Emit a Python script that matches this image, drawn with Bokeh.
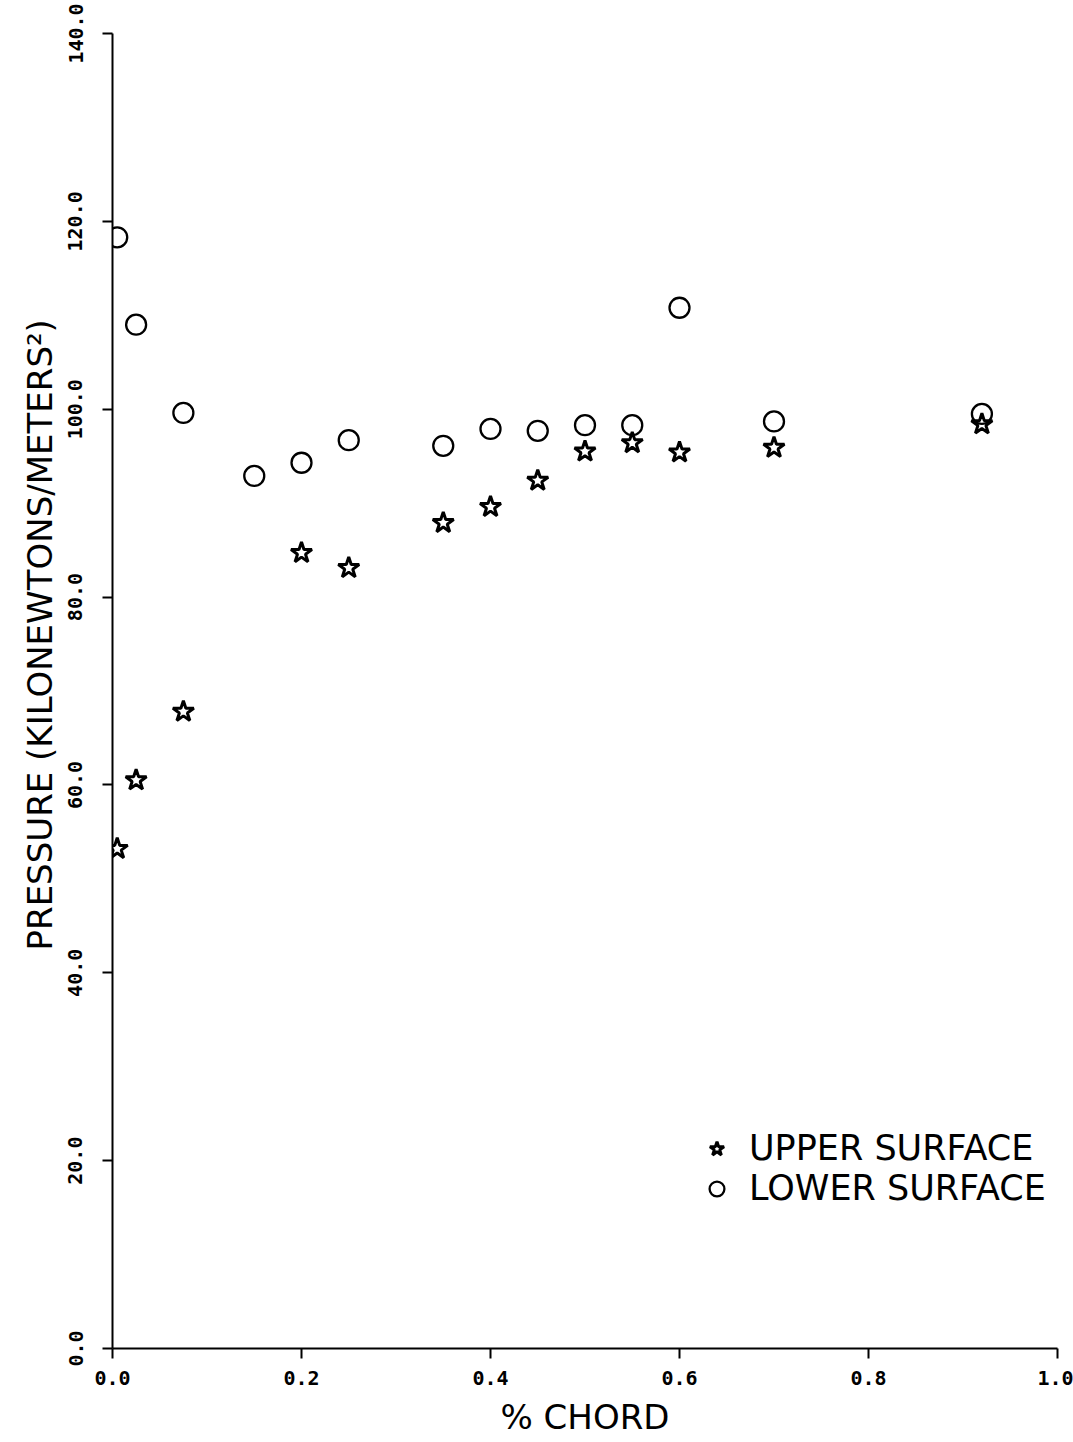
from bokeh.plotting import figure
from bokeh.models import Range1d, FixedTicker, PrintfTickFormatter, Legend, LegendItem, Title
from bokeh.embed import file_html
from bokeh.resources import INLINE

# data
upper_x = [0.005, 0.025, 0.075, 0.2, 0.25, 0.35, 0.4, 0.45, 0.5, 0.55, 0.6, 0.7, 0.92]
upper_y = [53.2, 60.5, 67.8, 84.7, 83.1, 87.9, 89.6, 92.4, 95.5, 96.4, 95.4, 95.9, 98.4]

lower_x = [0.005, 0.025, 0.075, 0.15, 0.2, 0.25, 0.35, 0.4, 0.45, 0.5, 0.55, 0.6, 0.7, 0.92]
lower_y = [118.3, 109.0, 99.6, 92.9, 94.3, 96.7, 96.1, 97.9, 97.7, 98.3, 98.3, 110.8, 98.7, 99.5]

x_ticks = [0.0, 0.2, 0.4, 0.6, 0.8, 1.0]
y_ticks = [0.0, 20.0, 40.0, 60.0, 80.0, 100.0, 120.0, 140.0]

x_label = "% CHORD"
y_label = "PRESSURE (KILONEWTONS/METERS\u00b2)"
series_labels = ["UPPER SURFACE", "LOWER SURFACE"]

p = figure(width=1073, height=1442, output_backend="svg", toolbar_location=None,
           x_range=Range1d(0, 1.0), y_range=Range1d(0, 140),
           min_border_left=112, min_border_right=16, min_border_top=33, min_border_bottom=94)
p.outline_line_color = None
p.grid.visible = False
p.background_fill_color = "white"
p.border_fill_color = "white"

tick_font = "DejaVu Sans Mono"
for ax in (p.xaxis[0], p.yaxis[0]):
    ax.axis_line_color = "black"
    ax.axis_line_width = 2
    ax.major_tick_line_color = "black"
    ax.major_tick_line_width = 2
    ax.major_tick_out = 10
    ax.major_tick_in = 0
    ax.minor_tick_line_color = None
    ax.major_label_text_font = tick_font
    ax.major_label_text_font_style = "bold"
    ax.major_label_text_font_size = "20px"
    ax.major_label_text_color = "black"
    ax.formatter = PrintfTickFormatter(format="%.1f")

p.xaxis.ticker = FixedTicker(ticks=x_ticks)
p.yaxis.ticker = FixedTicker(ticks=y_ticks)
p.xaxis.major_label_standoff = 12
p.yaxis.major_label_standoff = 20
p.yaxis.major_label_orientation = "vertical"

p.xaxis.axis_label = x_label
p.xaxis.axis_label_text_font = "DejaVu Sans"
p.xaxis.axis_label_text_font_style = "normal"
p.xaxis.axis_label_text_font_size = "34px"
p.xaxis.axis_label_text_color = "black"
p.xaxis.axis_label_standoff = 9

ytitle = Title(text=y_label, align="left", offset=398, text_font="DejaVu Sans",
               text_font_style="normal", text_font_size="34px", text_color="black", standoff=12)
p.add_layout(ytitle, "left")

r_star = p.scatter(upper_x, upper_y, marker="star", size=22, line_color="black",
                   line_width=3, fill_color="white")
r_circ = p.scatter(lower_x, lower_y, marker="circle", size=20, line_color="black",
                   line_width=2.3, fill_color=None)

legend = Legend(items=[LegendItem(label=series_labels[0], renderers=[r_star]),
                       LegendItem(label=series_labels[1], renderers=[r_circ])],
                location=(586, 140), padding=0, margin=0, spacing=0,
                glyph_width=37, glyph_height=37, label_height=37, label_standoff=14,
                label_text_font="DejaVu Sans", label_text_font_size="35px",
                label_text_color="black",
                border_line_color=None, background_fill_alpha=0)
p.add_layout(legend)

open("out.html", "w").write(file_html(p, INLINE))
